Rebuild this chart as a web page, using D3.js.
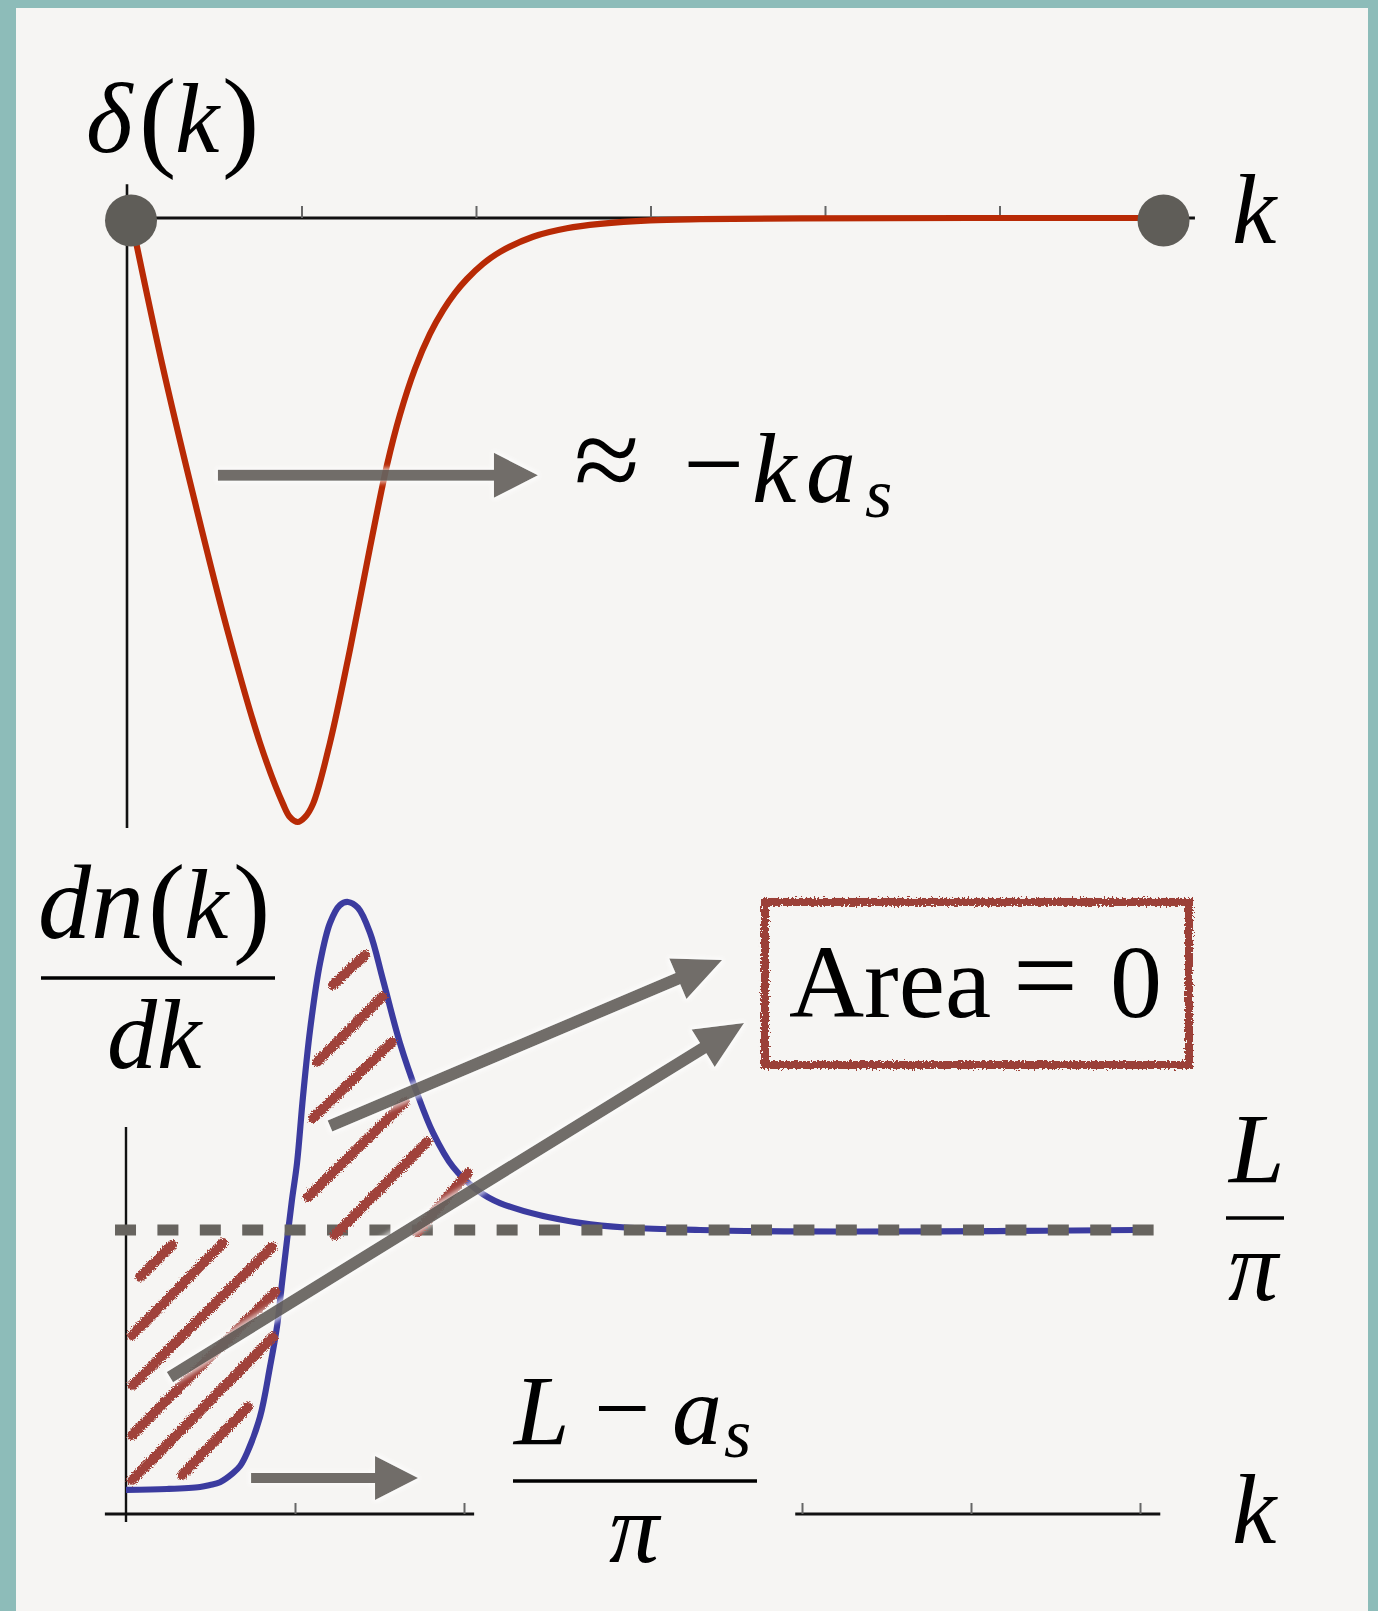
<!DOCTYPE html>
<html>
<head>
<meta charset="utf-8">
<script src="https://cdn.jsdelivr.net/npm/d3@7/dist/d3.min.js"></script>
<style>
  body { margin: 0; background: #8dbcb9; }
  svg { display: block; }
</style>
</head>
<body>
<div id="content"></div>
<script>
(function(d3) {

   // top panel: phase shift delta(k), k in tick units, delta scaled so the dip is -1
   var deltaK   = [0.023, 0.20, 0.378, 0.573, 0.762, 0.894, 0.934, 0.978, 1.020, 1.066, 1.163, 1.278, 1.393, 1.490,
                   1.564, 1.650, 1.736, 1.811, 1.880, 1.948, 2.040, 2.138, 2.327, 2.521, 2.711, 2.997, 3.284, 3.857, 5.94];
   var deltaVal = [0, -0.240, -0.457, -0.680, -0.869, -0.970, -0.992, -1.0, -0.992, -0.970, -0.869, -0.714, -0.545, -0.409,
                   -0.326, -0.250, -0.192, -0.153, -0.124, -0.101, -0.076, -0.056, -0.031, -0.017, -0.0098, -0.004, -0.002, -0.0005, 0];

   // bottom panel: dn/dk, scaled so the L/pi level is 1
   var dnK   = [0, 0.243, 0.438, 0.497, 0.556, 0.633, 0.675, 0.716, 0.793, 0.852, 0.893, 0.923, 0.953, 0.982, 1.012, 1.047, 1.089, 1.148, 1.207, 1.266, 1.314, 1.373, 1.444, 1.521, 1.621, 1.722, 1.817, 1.935, 2.077, 2.213, 2.686, 3.396, 5.97];
   var dnVal = [0.085, 0.088, 0.095, 0.102, 0.112, 0.144, 0.169, 0.215, 0.342, 0.518, 0.658, 0.813, 0.965, 1.106, 1.236, 1.468, 1.704, 1.940, 2.081, 2.144, 2.155, 2.134, 2.046, 1.880, 1.658, 1.482, 1.342, 1.222, 1.141, 1.095, 1.025, 1.0, 1.0];
   var levelLpi = 1.0;

   var topTicks = [1, 2, 3, 4, 5];
   var botTicks = [1, 2, 4, 5, 6];
   var botAxisParts = [[-0.125, 2.06], [3.96, 6.12]];

   // hand drawn hatch strokes [k1, v1, k2, v2]
   var hatchLeft = [[0.083, 0.835, 0.272, 0.947], [0.036, 0.630, 0.574, 0.954], [0.041, 0.454, 0.864, 0.940],
                    [0.036, 0.278, 0.882, 0.782], [0.036, 0.120, 0.870, 0.623], [0.331, 0.137, 0.722, 0.377]];
   var hatchPeak = [[1.225, 1.863, 1.414, 1.968], [1.130, 1.592, 1.515, 1.820], [1.107, 1.394, 1.574, 1.662],
                    [1.077, 1.116, 1.651, 1.451], [1.237, 0.982, 1.781, 1.310], [1.722, 0.993, 2.024, 1.201]];

   // annotation arrows [k1, v1, k2, v2]
   var topArrow = [0.521, -0.426, 2.355, -0.426];
   var botArrows = [[1.207, 1.366, 3.527, 1.951], [0.260, 0.482, 3.657, 1.729], [0.740, 0.127, 1.728, 0.127]];
   var areaBox = [3.781, 2.155, 6.290, 1.581];

   var win_width = 1378;
   var win_height = 1611;

   var svg = d3.select("#content")
            .append("svg")
            .attr("width", win_width)
            .attr("height", win_height);

   var defs = svg.append("defs");
   function roughFilter(id, freq, scale) {
        var f = defs.append("filter").attr("id", id)
            .attr("x", "-10%").attr("y", "-10%").attr("width", "120%").attr("height", "120%");
        f.append("feTurbulence").attr("type", "fractalNoise").attr("baseFrequency", freq)
         .attr("numOctaves", 2).attr("seed", 3).attr("result", "noise");
        f.append("feDisplacementMap").attr("in", "SourceGraphic").attr("in2", "noise")
         .attr("scale", scale).attr("xChannelSelector", "R").attr("yChannelSelector", "G");
   }
   roughFilter("rough", 0.8, 6);
   roughFilter("roughBox", 0.5, 7);

   var halo = defs.append("filter").attr("id", "halo")
            .attr("x", "-20%").attr("y", "-20%").attr("width", "140%").attr("height", "140%");
   halo.append("feMorphology").attr("in", "SourceAlpha").attr("operator", "dilate").attr("radius", 2).attr("result", "d");
   halo.append("feGaussianBlur").attr("in", "d").attr("stdDeviation", 2).attr("result", "b");
   halo.append("feFlood").attr("flood-color", "#ffffff").attr("flood-opacity", 0.7);
   halo.append("feComposite").attr("in2", "b").attr("operator", "in").attr("result", "w");
   var hm = halo.append("feMerge");
   hm.append("feMergeNode").attr("in", "w");
   hm.append("feMergeNode").attr("in", "SourceGraphic");

   svg.append("rect").attr("width", win_width).attr("height", win_height).style("fill", "#8dbcb9");
   svg.append("rect").attr("x", 16).attr("y", 8).attr("width", 1352).attr("height", 1603).style("fill", "#f6f5f3");

   var xTop = d3.scaleLinear().domain([0, 6]).range([127, 1174]);
   var yTop = d3.scaleLinear().domain([-1, 0]).range([822, 218]);
   var xBot = d3.scaleLinear().domain([0, 6]).range([126, 1140]);
   var yBot = d3.scaleLinear().domain([0, 1]).range([1514, 1230]);

   var grey = "#67645f";

   function arrow(g, x1, y1, x2, y2, w, headLen, headHalf) {
        var dx = x2 - x1, dy = y2 - y1;
        var len = Math.sqrt(dx * dx + dy * dy);
        var ux = dx / len, uy = dy / len, nx = -uy, ny = ux;
        var bx = x2 - ux * headLen, by = y2 - uy * headLen;
        var pts = [[x1 + nx * w / 2, y1 + ny * w / 2], [bx + nx * w / 2, by + ny * w / 2],
                   [bx + nx * headHalf, by + ny * headHalf], [x2, y2],
                   [bx - nx * headHalf, by - ny * headHalf], [bx - nx * w / 2, by - ny * w / 2],
                   [x1 - nx * w / 2, y1 - ny * w / 2]];
        g.append("path").attr("d", "M" + pts.join("L") + "Z")
         .attr("filter", "url(#halo)")
         .style("fill", grey).style("opacity", 0.93);
   }

   // one text, pieces placed one by one: [text, x, italic, size, dy]
   function label(y, parts) {
        var t = svg.append("text")
                 .style("font-family", "'Liberation Serif', 'Times New Roman', serif")
                 .style("fill", "#000");
        parts.forEach(function(p) {
            t.append("tspan").attr("x", p[1]).attr("y", y + (p[4] || 0))
             .style("font-style", p[2] ? "italic" : "normal")
             .style("font-size", (p[3] || 100) + "px")
             .text(p[0]);
        });
        return t;
   }

   // ---- top panel ----
   var top = svg.append("g");
   top.append("line").attr("x1", xTop(0)).attr("x2", xTop(0))
      .attr("y1", yTop(0.056)).attr("y2", yTop(-1.01))
      .style("stroke", "#111").style("stroke-width", 2.6);
   top.append("line").attr("x1", xTop(0)).attr("x2", xTop(6.12))
      .attr("y1", yTop(0)).attr("y2", yTop(0))
      .style("stroke", "#111").style("stroke-width", 3);
   var tAxis = top.append("g").attr("transform", "translate(0," + yTop(0) + ")")
      .call(d3.axisTop(xTop).tickValues(topTicks).tickSize(12).tickFormat(""));
   tAxis.select(".domain").remove();
   tAxis.selectAll(".tick line").style("stroke", "#666").style("stroke-width", 2);

   var redLine = d3.line().x(function(d) { return xTop(d[0]); })
                   .y(function(d) { return yTop(d[1]); }).curve(d3.curveCatmullRom.alpha(0.5));
   top.append("path").datum(d3.zip(deltaK, deltaVal)).attr("d", redLine)
      .style("fill", "none").style("stroke", "#b82a05").style("stroke-width", 6.2)
      .style("stroke-linejoin", "round");

   top.selectAll(".dot").data([deltaK[0], deltaK[deltaK.length - 1]]).enter()
      .append("circle").attr("cx", function(d) { return xTop(d); }).attr("cy", yTop(-0.004))
      .attr("r", 26).style("fill", "#5f5d58");

   arrow(top, xTop(topArrow[0]), yTop(topArrow[1]), xTop(topArrow[2]), yTop(topArrow[3]), 11, 44, 22.5);

   // ---- bottom panel ----
   var bot = svg.append("g");
   bot.append("line").attr("x1", xBot(0)).attr("x2", xBot(0))
      .attr("y1", yBot(1.363)).attr("y2", yBot(-0.028))
      .style("stroke", "#111").style("stroke-width", 2.4);
   botAxisParts.forEach(function(p) {
        bot.append("line").attr("x1", xBot(p[0])).attr("x2", xBot(p[1]))
           .attr("y1", yBot(0)).attr("y2", yBot(0))
           .style("stroke", "#111").style("stroke-width", 3);
   });
   var bAxis = bot.append("g").attr("transform", "translate(0," + yBot(0) + ")")
      .call(d3.axisTop(xBot).tickValues(botTicks).tickSize(11).tickFormat(""));
   bAxis.select(".domain").remove();
   bAxis.selectAll(".tick line").style("stroke", "#666").style("stroke-width", 2);

   var blueLine = d3.line().x(function(d) { return xBot(d[0]); })
                    .y(function(d) { return yBot(d[1]); }).curve(d3.curveCatmullRom.alpha(0.5));
   bot.append("path").datum(d3.zip(dnK, dnVal)).attr("d", blueLine)
      .style("fill", "none").style("stroke", "#3b3b9f").style("stroke-width", 6.2)
      .style("stroke-linejoin", "round");

   bot.append("line").attr("x1", xBot(-0.065)).attr("x2", xBot(6.09))
      .attr("y1", yBot(levelLpi)).attr("y2", yBot(levelLpi))
      .style("stroke", grey).style("stroke-width", 11).style("stroke-dasharray", "21,21.4");

   var hatch = bot.append("g").attr("filter", "url(#rough)");
   hatch.selectAll("line").data(hatchLeft.concat(hatchPeak)).enter().append("line")
      .attr("x1", function(d) { return xBot(d[0]); }).attr("y1", function(d) { return yBot(d[1]); })
      .attr("x2", function(d) { return xBot(d[2]); }).attr("y2", function(d) { return yBot(d[3]); })
      .style("stroke", "#a0433a").style("stroke-width", 10).style("stroke-linecap", "round");

   botArrows.forEach(function(a, i) {
        arrow(bot, xBot(a[0]), yBot(a[1]), xBot(a[2]), yBot(a[3]), i == 2 ? 10 : 12, i == 2 ? 43 : 48, 22);
   });

   bot.append("rect").attr("x", xBot(areaBox[0])).attr("y", yBot(areaBox[1]))
      .attr("width", xBot(areaBox[2]) - xBot(areaBox[0])).attr("height", yBot(areaBox[3]) - yBot(areaBox[1]))
      .attr("filter", "url(#roughBox)")
      .style("fill", "none").style("stroke", "#9b4037").style("stroke-width", 8);

   // ---- labels ----
   label(152, [["\u03b4", 86, 1], ["(", 139, 0, 112, 4], ["k", 175, 1], [")", 222, 0, 112, 4]]);
   label(243, [["k", 1232, 1]]);
   label(502, [["\u2248", 574, 0, 120, -2], ["\u2212", 683, 0, 108, -2], ["k", 752, 1], ["a", 806, 1], ["s", 865, 1, 70, 15]]);

   label(938, [["dn", 38, 1, 106], ["(", 148, 0, 112, 4], ["k", 184, 1], [")", 233, 0, 112, 4]]);
   svg.append("line").attr("x1", 41).attr("x2", 275).attr("y1", 978).attr("y2", 978)
      .style("stroke", "#000").style("stroke-width", 3.5);
   label(1068, [["dk", 107, 1]]);

   label(1017, [["Area", 789, 0, 104], ["=", 1013, 0, 115, -3], ["0", 1110, 0, 104]]);

   label(1182, [["L", 1229, 1]]);
   svg.append("line").attr("x1", 1226).attr("x2", 1284).attr("y1", 1218).attr("y2", 1218)
      .style("stroke", "#000").style("stroke-width", 3.5);
   label(1300, [["\u03c0", 1228, 1]]);

   label(1444, [["L", 514, 1], ["\u2212", 594, 0, 100, -2], ["a", 672, 1], ["s", 724, 1, 70, 13]]);
   svg.append("line").attr("x1", 513).attr("x2", 757).attr("y1", 1481).attr("y2", 1481)
      .style("stroke", "#000").style("stroke-width", 3.5);
   label(1562, [["\u03c0", 609, 1]]);

   label(1543, [["k", 1232, 1]]);

})(window.d3);
</script>
</body>
</html>
